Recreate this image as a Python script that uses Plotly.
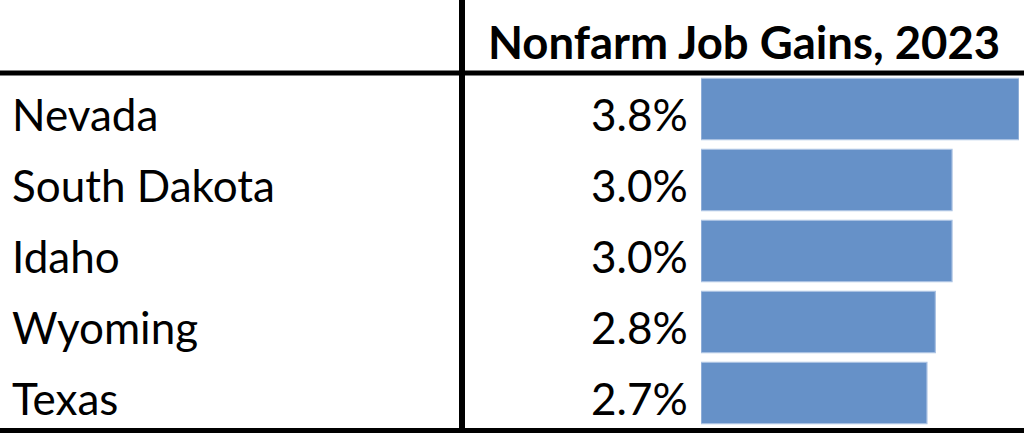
import plotly.graph_objects as go

states = ["Nevada", "South Dakota", "Idaho", "Wyoming", "Texas"]
gains = [3.8, 3.0, 3.0, 2.8, 2.7]
value_labels = ["3.8%", "3.0%", "3.0%", "2.8%", "2.7%"]
header = "Nonfarm Job Gains, 2023"

W, H = 1024, 433
FONT = "Lato"

def px_x(p):
    return p / W

def px_y(p):
    return (H - p) / H

fig = go.Figure(
    go.Bar(
        y=states,
        x=gains,
        orientation="h",
        width=0.86,
        marker=dict(color="#6691C8", line=dict(color="#A9C1E2", width=1.2)),
        hoverinfo="skip",
    )
)

annotations = []
for s, lab in zip(states, value_labels):
    annotations.append(dict(x=px_x(10), y=s, xref="paper", yref="y", text=s,
                            showarrow=False, xanchor="left", yanchor="middle", yshift=-5,
                            font=dict(family=FONT, size=44, color="black")))
    annotations.append(dict(x=px_x(690), y=s, xref="paper", yref="y", text=lab,
                            showarrow=False, xanchor="right", yanchor="middle", yshift=-5,
                            font=dict(family=FONT, size=44, color="black")))
annotations.append(dict(x=px_x(744), y=px_y(42), xref="paper", yref="paper",
                        text="<b>" + header + "</b>", showarrow=False,
                        xanchor="center", yanchor="middle",
                        font=dict(family=FONT, size=45.5, color="black")))

shapes = [
    dict(type="line", xref="paper", yref="paper", x0=0, x1=1, y0=px_y(73), y1=px_y(73),
         line=dict(color="black", width=5)),
    dict(type="line", xref="paper", yref="paper", x0=px_x(462), x1=px_x(462), y0=0, y1=1,
         line=dict(color="black", width=6)),
    dict(type="line", xref="paper", yref="paper", x0=0, x1=1, y0=px_y(430.5), y1=px_y(430.5),
         line=dict(color="black", width=5)),
]

fig.update_layout(
    width=W, height=H,
    margin=dict(l=0, r=0, t=0, b=0),
    paper_bgcolor="white", plot_bgcolor="white",
    showlegend=False,
    xaxis=dict(range=[0, 3.8], domain=[px_x(701), px_x(1019)], showgrid=False,
               zeroline=False, showticklabels=False, ticks="", showline=False),
    yaxis=dict(categoryorder="array", categoryarray=states, range=[4.5, -0.5],
               domain=[px_y(428.5), px_y(73.5)], showgrid=False, zeroline=False,
               showticklabels=False, ticks="", showline=False),
    annotations=annotations,
    shapes=shapes,
)

fig.write_html("out.html", config={"displayModeBar": False},
               post_script="document.body.style.margin='0';document.body.style.overflow='hidden';")
